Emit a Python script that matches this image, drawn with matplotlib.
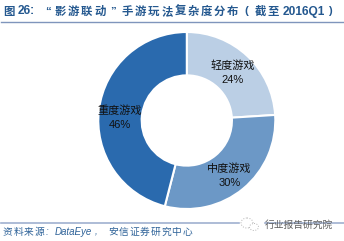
import matplotlib
matplotlib.use('Agg')
import matplotlib.pyplot as plt
from matplotlib.patches import Ellipse, Rectangle

# Data
categories = ['轻度游戏', '中度游戏', '重度游戏']
shares = [24, 30, 46]
colors = ['#BBCFE5', '#6C98C6', '#2A6AAE']
source_parts = ['资料来源', 'DataEye', '安信证券研究中心']
watermark = '行业报告研究院'

fonts = ['Liberation Sans', 'Noto Sans CJK SC']
W, H = 344, 241
BLUE = '#24588F'

fig = plt.figure(figsize=(W / 100, H / 100), dpi=100)

# Page layer in pixel coordinates
page = fig.add_axes([0, 0, 1, 1])
page.set_xlim(0, W)
page.set_ylim(H, 0)
page.axis('off')


def spaced(x, y, s, pitch, **kw):
    # the original title has wide letter spacing, so one glyph at a time
    for i, ch in enumerate(s):
        page.text(x + i * pitch, y, ch, family=fonts, va='center', ha='left', **kw)


title_kw = dict(fontsize=8.2, fontweight='bold', color=BLUE)
page.text(3, 11.5, '图', family=fonts, va='center', **title_kw)
page.text(18, 11.5, '26:', family=fonts, va='center', fontsize=8.6, fontweight='bold', color=BLUE)
page.text(45, 11.5, '“', family=fonts, va='center', **title_kw)
spaced(55, 11.5, '影游联动', 13, **title_kw)
page.text(110, 11.5, '”', family=fonts, va='center', **title_kw)
spaced(122, 11.5, '手游玩法复杂度分布', 13.1, **title_kw)
page.text(244, 11.5, '(', family=fonts, va='center', **title_kw)
spaced(255, 11.5, '截至', 12, **title_kw)
page.text(283, 11.5, '2016Q1', family=fonts, va='center', fontsize=8.6, fontweight='bold', color=BLUE)
page.text(328, 11.5, ')', family=fonts, va='center', **title_kw)

page.plot([1, 343], [21.5, 21.5], color='#7F95BC', lw=1.0)
page.plot([1, 344], [223, 223], color='#9FB0D0', lw=1.2)

source_kw = dict(fontsize=7, style='italic', color='#2F6399')
spaced(3, 232, source_parts[0], 10.6, **source_kw)
page.text(46, 232, ':', family=fonts, va='center', **source_kw)
page.text(55, 232, source_parts[1], family=fonts, va='center', **source_kw)
page.text(95, 232, ',', family=fonts, va='center', **source_kw)
spaced(108, 232, source_parts[2], 10.6, **source_kw)

# Watermark icon sits on a white patch over the rule
page.add_patch(Rectangle((240, 217), 23, 14, color='white', zorder=3))
page.add_patch(Ellipse((247, 223), 12, 10, fc='white', ec='#B5B5B5', lw=0.7, ls=':', zorder=4))
page.add_patch(Ellipse((254, 227), 9, 7, fc='white', ec='#B5B5B5', lw=0.7, ls=':', zorder=4))
page.text(265, 225, watermark, family=fonts, fontsize=7, color='#5E5E5E',
          va='center', ha='left', zorder=4)

# Doughnut
cx, cy, r = 186.8, 120.5, 88.5
ax = fig.add_axes([(cx - r) / W, 1 - (cy + r) / H, 2 * r / W, 2 * r / H])
labels = [f'{c}\n{s}%' for c, s in zip(categories, shares)]
wedges, texts = ax.pie(shares, colors=colors, startangle=90, counterclock=False,
                       radius=1, labels=labels, labeldistance=0.76,
                       wedgeprops=dict(width=0.49, edgecolor='white', linewidth=1.5))
# labels do not sit exactly on the slice midline in the original
nudge = [-0.015, -0.035, -0.065]
for t, dy in zip(texts, nudge):
    t.set_family(fonts)
    t.set_fontsize(8)
    t.set_color('#111111')
    t.set_ha('center')
    t.set_va('center')
    t.set_linespacing(1.45)
    x, y = t.get_position()
    t.set_position((x, y + dy))
ax.set_xlim(-1, 1)
ax.set_ylim(-1, 1)

fig.savefig('out.png', dpi=100)
